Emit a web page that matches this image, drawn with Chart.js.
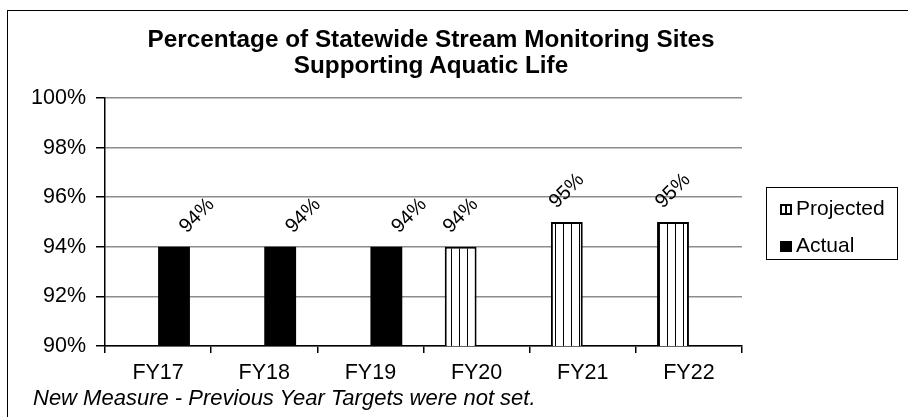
<!DOCTYPE html>
<html>
<head>
<meta charset="utf-8">
<script src="https://cdn.jsdelivr.net/npm/chart.js@4.4.0/dist/chart.umd.min.js"></script>
<style>
  body { margin: 0; background: #fff; }
  #wrap { position: relative; width: 908px; height: 417px; overflow: hidden; font-family: "Liberation Sans", Arial, sans-serif; color: #000; }
  #frame { position: absolute; left: 7px; top: 10px; width: 940px; height: 440px; border: 1px solid #000; box-sizing: border-box; }
  #chart { position: absolute; left: 0; top: 0; }
  #title { position: absolute; left: 0; top: 26px; width: 862px; text-align: center; font-weight: bold; font-size: 24.3px; line-height: 26px; }
  #legend { position: absolute; left: 766px; top: 187px; width: 132px; height: 73px; border: 1px solid #000; box-sizing: border-box; font-size: 21px; }
  .item { position: absolute; left: 13px; height: 24px; line-height: 24px; white-space: nowrap; }
  .mark { display: inline-block; width: 12px; height: 11px; box-sizing: border-box; margin-right: 4px; vertical-align: 0px; }
  .proj { border: 2px solid #000; background: linear-gradient(to right, #fff 0, #fff 3px, #000 3px, #000 5px, #fff 5px); }
  .act { background: #000; }
  #note { position: absolute; left: 33px; top: 385px; font-style: italic; font-size: 22px; line-height: 26px; white-space: nowrap; }
</style>
</head>
<body>
<div id="wrap">
  <canvas id="chart" width="908" height="417"></canvas>
  <div id="frame"></div>
  <div id="title">Percentage of Statewide Stream Monitoring Sites<br>Supporting Aquatic Life</div>
  <div id="legend">
    <div class="item" style="top:8px"><span class="mark proj"></span>Projected</div>
    <div class="item" style="top:45px"><span class="mark act"></span>Actual</div>
  </div>
  <div id="note">New Measure - Previous Year Targets were not set.</div>
</div>
<script>
const years = ['FY17', 'FY18', 'FY19', 'FY20', 'FY21', 'FY22'];
const projected = [null, null, null, 94, 95, 95];
const actual = [94, 94, 94, null, null, null];
const yTicks = [90, 92, 94, 96, 98, 100];

// vertical stripe fill for the projected bars
function stripes() {
  const c = document.createElement('canvas');
  c.width = 8; c.height = 8;
  const g = c.getContext('2d');
  g.fillStyle = '#fff';
  g.fillRect(0, 0, 8, 8);
  g.fillStyle = '#000';
  g.fillRect(3, 0, 1, 8);
  return g.createPattern(c, 'repeat');
}

const barLabels = {
  id: 'barLabels',
  afterDatasetsDraw(chart) {
    const ctx = chart.ctx;
    ctx.save();
    ctx.font = '20px "Liberation Sans", Arial, sans-serif';
    ctx.fillStyle = '#000';
    ctx.textAlign = 'center';
    ctx.textBaseline = 'middle';
    chart.data.datasets.forEach((ds, di) => {
      const meta = chart.getDatasetMeta(di);
      meta.data.forEach((bar, i) => {
        if (ds.data[i] == null) return;
        const dx = di === 1 ? 23 : 0;
        ctx.save();
        ctx.translate(bar.x + dx, bar.y - 31);
        ctx.rotate(-Math.PI / 4);
        ctx.fillText(ds.data[i] + '%', 0, 0);
        ctx.restore();
      });
    });
    ctx.restore();
  }
};

const ctx = document.getElementById('chart').getContext('2d');
const myChart = new Chart(ctx, {
  type: 'bar',
  data: {
    labels: years,
    datasets: [
      {
        label: 'Projected',
        data: projected,
        backgroundColor: stripes(),
        borderColor: '#000',
        borderWidth: 2,
        borderSkipped: false
      },
      {
        label: 'Actual',
        data: actual,
        backgroundColor: '#000',
        borderWidth: 0
      }
    ]
  },
  options: {
    responsive: false,
    animation: false,
    events: [],
    layout: { padding: { left: 0, top: 98, right: 166, bottom: 0 } },
    datasets: { bar: { categoryPercentage: 0.6, barPercentage: 1.0 } },
    plugins: { legend: { display: false }, title: { display: false }, tooltip: { enabled: false } },
    scales: {
      x: {
        afterFit: s => { s.height = 71; },
        grid: {
          offset: true,
          color: c => c.index === years.length ? '#8c8c8c' : 'rgba(0,0,0,0)',
          lineWidth: 1.5,
          tickColor: '#000',
          tickLength: 7
        },
        border: { color: '#000', width: 1.5 },
        ticks: { color: '#000', font: { family: '"Liberation Sans", Arial, sans-serif', size: 21.5 }, padding: 7 }
      },
      y: {
        min: 90,
        max: 100,
        afterFit: s => { s.width = 105; },
        afterBuildTicks: s => { s.ticks = yTicks.map(v => ({ value: v })); },
        grid: { color: '#8c8c8c', lineWidth: 1.5, tickColor: '#000', tickLength: 9 },
        border: { color: '#000', width: 1.5 },
        ticks: {
          color: '#000',
          padding: 10,
          font: { family: '"Liberation Sans", Arial, sans-serif', size: 21.5 },
          callback: v => v + '%'
        }
      }
    }
  },
  plugins: [barLabels]
});
</script>
</body>
</html>
